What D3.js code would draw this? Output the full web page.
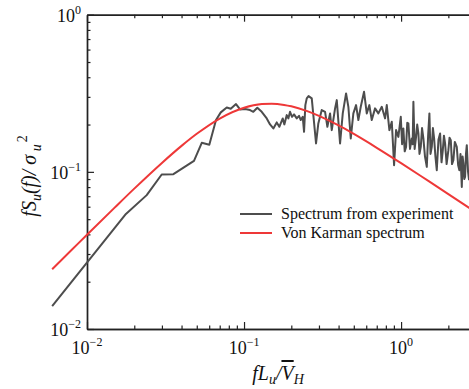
<!DOCTYPE html>
<html>
<head>
  <script src="https://d3js.org/d3.v7.min.js"></script>
  <style>
  body {
    margin: 0;
    background: #fff;
  }

  svg {
    display: block;
    background: #fff;
  }

  text {
    font-family: "Liberation Serif", "Times New Roman", "DejaVu Serif", serif;
  }

  .domain {
    stroke: #222;
    stroke-width: 1.4;
  }

  .tick line {
    stroke: #222;
    stroke-width: 1.2;
  }
  </style>
</head>
<body>
  <script>
    var expX = [0.006, 0.0177, 0.024, 0.0299, 0.0355, 0.048, 0.0538, 0.0601, 0.0663, 0.0711,
      0.0776, 0.0823, 0.0889, 0.0943, 0.1015, 0.1092, 0.1146, 0.1215, 0.1296, 0.1395,
      0.1464, 0.1537, 0.1615, 0.1678, 0.1764, 0.1806, 0.1871, 0.1915, 0.1963, 0.2021,
      0.2082, 0.2166, 0.224, 0.2297, 0.2365, 0.2411, 0.2457, 0.2508, 0.2575, 0.2699,
      0.2763, 0.2874, 0.2972, 0.3125, 0.3281, 0.3394, 0.353, 0.3619, 0.3799, 0.3895,
      0.4088, 0.4253, 0.4464, 0.4617, 0.4782, 0.4968, 0.5169, 0.5346, 0.5537, 0.5811,
      0.6046, 0.6281, 0.6506, 0.6829, 0.7168, 0.7536, 0.7909, 0.8109, 0.8425, 0.8727,
      0.9025, 0.9294, 0.9612, 0.9957, 1.015, 1.034, 1.055, 1.076, 1.095, 1.113,
      1.14, 1.17, 1.185, 1.198, 1.22, 1.246, 1.267, 1.289, 1.31, 1.335,
      1.36, 1.387, 1.42, 1.458, 1.487, 1.515, 1.54, 1.569, 1.595, 1.623,
      1.655, 1.688, 1.73, 1.772, 1.81, 1.844, 1.875, 1.907, 1.95, 2.001,
      2.035, 2.073, 2.11, 2.153, 2.2, 2.263, 2.31, 2.351, 2.39, 2.436,
      2.465, 2.494, 2.525, 2.556, 2.59, 2.621, 2.67, 2.711];
    var expY = [0.014, 0.054, 0.0711, 0.0962, 0.0966, 0.1175, 0.153, 0.1486, 0.2135, 0.239,
      0.257, 0.252, 0.27, 0.2497, 0.2508, 0.2472, 0.241, 0.2556, 0.241, 0.2188,
      0.2004, 0.189, 0.2064, 0.1935, 0.2188, 0.2004, 0.2297, 0.2188, 0.241, 0.224,
      0.232, 0.2188, 0.2273, 0.2135, 0.224, 0.1798, 0.266, 0.2934, 0.3035, 0.2934,
      0.2297, 0.1517, 0.2034, 0.2472, 0.241, 0.1935, 0.2355, 0.1843, 0.2534, 0.2861,
      0.1517, 0.2355, 0.3157, 0.2594, 0.1632, 0.2355, 0.266, 0.2135, 0.2594, 0.3233,
      0.2355, 0.266, 0.2135, 0.2534, 0.2355, 0.2594, 0.2188, 0.266, 0.1843, 0.2082,
      0.1103, 0.1843, 0.167, 0.224, 0.15, 0.189, 0.135, 0.1442, 0.205, 0.2034,
      0.14, 0.1632, 0.15, 0.2791, 0.14, 0.167, 0.2, 0.1756, 0.13, 0.1442,
      0.19, 0.1632, 0.125, 0.1076, 0.17, 0.2355, 0.13, 0.1442, 0.19, 0.1632,
      0.125, 0.1025, 0.16, 0.1756, 0.115, 0.1374, 0.17, 0.1517, 0.112, 0.1374,
      0.165, 0.1592, 0.112, 0.1187, 0.155, 0.1442, 0.11, 0.1025, 0.13, 0.0802,
      0.125, 0.1131, 0.09, 0.0929, 0.13, 0.1479, 0.1, 0.0885];

    // Von Karman curve
    var vkX = [0.006, 0.008, 0.01, 0.015, 0.02, 0.03, 0.04, 0.05, 0.07, 0.1,
      0.13, 0.15, 0.18, 0.2, 0.25, 0.3, 0.4, 0.5, 0.7, 1, 1.5, 2, 3];
    var vkY = [0.024, 0.0319, 0.0398, 0.0592, 0.0782, 0.114, 0.1463, 0.1746, 0.2185, 0.256,
      0.2699, 0.2712, 0.2666, 0.2612, 0.2443, 0.2271, 0.1973, 0.1742, 0.1423, 0.1136, 0.0872, 0.0722, 0.0552];

    var xMajorTicks = [0.01, 0.1, 1];
    var xMajorLabels = ["\u22122", "\u22121", "0"];
    var yMajorTicks = [0.01, 0.1, 1];
    var yMajorLabels = ["\u22122", "\u22121", "0"];
    var legendLabels = ["Spectrum from experiment", "Von Karman spectrum"];
    var lineColors = ["#4d4d4d", "#ee3838"];

    var width = 469;
    var height = 389;

    var svg = d3.select("body")
      .append("svg")
      .attr("width", width)
      .attr("height", height);

    var x = d3.scaleLog()
      .domain([0.01, 3])
      .range([87, 476]);

    var y = d3.scaleLog()
      .domain([0.01, 1])
      .range([329, 14.7]);

    function minorTicks(decades, maxVal) {
      var out = [];
      decades.forEach(function(d) {
        for (var k = 2; k <= 9; k++) {
          if (k * d <= maxVal * 1.0001) out.push(k * d);
        }
      });
      return out;
    }

    var xMinor = minorTicks([0.01, 0.1, 1], 3);
    var yMinor = minorTicks([0.01, 0.1], 1);

    function drawAxis(axisFn, scale, vals, size, tx, ty) {
      svg.append("g")
        .attr("transform", "translate(" + tx + "," + ty + ")")
        .call(axisFn(scale).tickValues(vals).tickSize(size).tickSizeOuter(0).tickFormat(""));
    }

    // bottom, top, left axes (ticks pointing inward)
    drawAxis(d3.axisBottom, x, xMinor, -3.5, 0, y.range()[0]);
    drawAxis(d3.axisBottom, x, xMajorTicks, -7, 0, y.range()[0]);
    drawAxis(d3.axisTop, x, xMinor, -3.5, 0, y.range()[1]);
    drawAxis(d3.axisTop, x, xMajorTicks, -7, 0, y.range()[1]);
    drawAxis(d3.axisLeft, y, yMinor, -3.5, x.range()[0], 0);
    drawAxis(d3.axisLeft, y, yMajorTicks, -7, x.range()[0], 0);

    // tick labels 10^n
    var xl = svg.append("g").selectAll("text")
      .data(xMajorTicks)
      .enter()
      .append("text")
      .attr("x", function(d) { return x(d); })
      .attr("y", 354)
      .attr("text-anchor", "middle")
      .attr("font-size", 18)
      .attr("fill", "#111");
    xl.append("tspan").text("10");
    xl.append("tspan")
      .attr("font-size", 12)
      .attr("dy", -8)
      .text(function(d, i) { return xMajorLabels[i]; });

    var yl = svg.append("g").selectAll("text")
      .data(yMajorTicks)
      .enter()
      .append("text")
      .attr("x", 81)
      .attr("y", function(d) { return y(d) + 7; })
      .attr("text-anchor", "end")
      .attr("font-size", 18)
      .attr("fill", "#111");
    yl.append("tspan").text("10");
    yl.append("tspan")
      .attr("font-size", 12)
      .attr("dy", -8)
      .text(function(d, i) { return yMajorLabels[i]; });

    // curves
    var line = d3.line()
      .x(function(d) { return x(d[0]); })
      .y(function(d) { return y(d[1]); });

    svg.append("path")
      .datum(d3.zip(expX, expY))
      .attr("fill", "none")
      .attr("stroke", lineColors[0])
      .attr("stroke-width", 2)
      .attr("stroke-linejoin", "round")
      .attr("d", line);

    svg.append("path")
      .datum(d3.zip(vkX, vkY))
      .attr("fill", "none")
      .attr("stroke", lineColors[1])
      .attr("stroke-width", 2)
      .attr("d", line.curve(d3.curveMonotoneX));

    // legend
    var legend = svg.append("g")
      .attr("transform", "translate(240,214)");
    legendLabels.forEach(function(label, i) {
      legend.append("line")
        .attr("x1", 0)
        .attr("x2", 32)
        .attr("y1", i * 19)
        .attr("y2", i * 19)
        .attr("stroke", lineColors[i])
        .attr("stroke-width", 2);
      legend.append("text")
        .attr("x", 41)
        .attr("y", i * 19 + 5)
        .attr("font-size", 16)
        .attr("fill", "#111")
        .text(label);
    });

    // axis titles
    var xt = svg.append("text")
      .attr("x", 278)
      .attr("y", 380)
      .attr("text-anchor", "middle")
      .attr("font-size", 20)
      .attr("font-style", "italic")
      .attr("fill", "#111");
    xt.append("tspan").text("fL");
    xt.append("tspan").attr("font-size", 14).attr("dy", 4).text("u");
    xt.append("tspan").attr("dy", -4).text("/");
    xt.append("tspan").style("text-decoration", "overline").text("V");
    xt.append("tspan").attr("font-size", 14).attr("dy", 4).text("H");

    var yt = svg.append("text")
      .attr("transform", "translate(36,176) rotate(-90)")
      .attr("text-anchor", "middle")
      .attr("font-size", 20)
      .attr("fill", "#111");
    yt.append("tspan").attr("font-style", "italic").text("fS");
    yt.append("tspan").attr("font-style", "italic").attr("font-size", 14).attr("dy", 5).text("u");
    yt.append("tspan").attr("font-style", "italic").attr("dy", -5).text("(f)/ \u03c3");
    yt.append("tspan").attr("font-style", "italic").attr("font-size", 14).attr("dy", 5).text(" u");
    yt.append("tspan").attr("font-size", 14).attr("dy", -14).attr("dx", 2).text("2");
  </script>
</body>
</html>
